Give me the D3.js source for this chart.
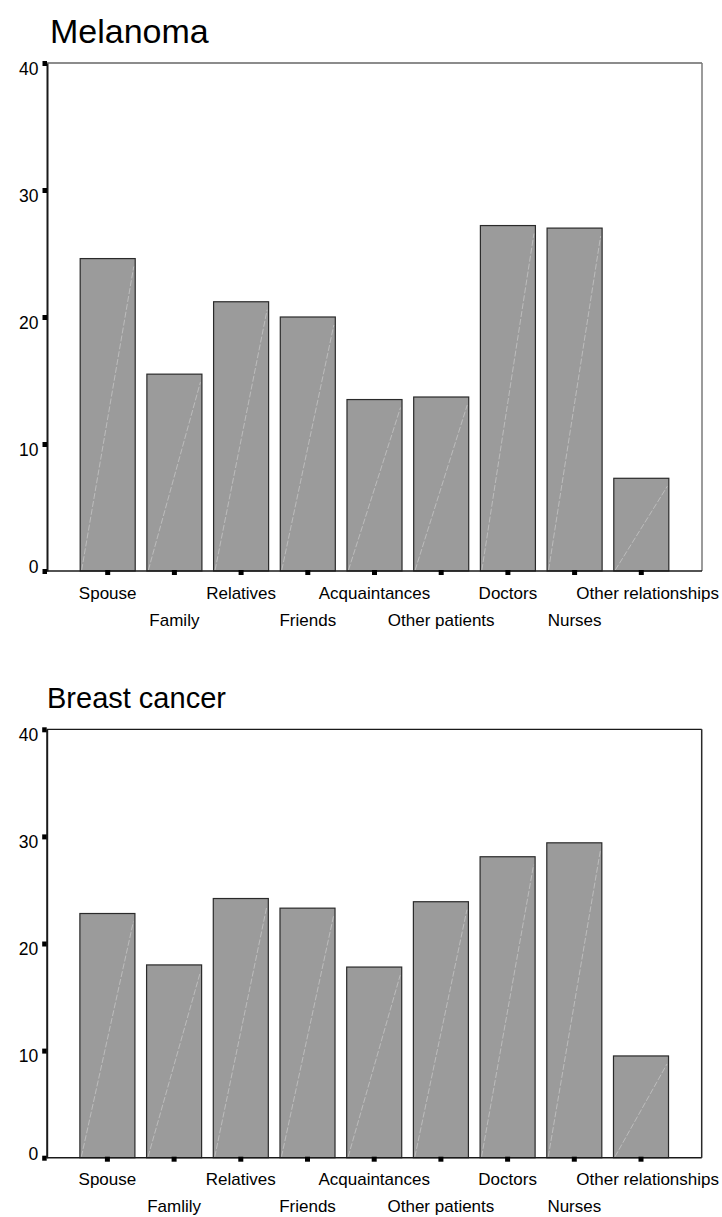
<!DOCTYPE html>
<html>
<head>
<meta charset="utf-8">
<script src="https://cdn.jsdelivr.net/npm/d3@7"></script>
<style>
  html, body { margin: 0; padding: 0; background: #fff; }
  svg { display: block; }
  text { font-family: "Liberation Sans", Arial, sans-serif; fill: #000; }
</style>
</head>
<body>
<svg id="chart" width="722" height="1217"></svg>
<script>
// ---- data ----
const categoriesMelanoma = ["Spouse", "Family", "Relatives", "Friends", "Acquaintances", "Other patients", "Doctors", "Nurses", "Other relationships"];
const categoriesBreast = ["Spouse", "Famlily", "Relatives", "Friends", "Acquaintances", "Other patients", "Doctors", "Nurses", "Other relationships"];
const melanomaValues = [24.6, 15.5, 21.2, 20.0, 13.5, 13.7, 27.2, 27.0, 7.3];
const breastValues = [22.8, 18.0, 24.2, 23.3, 17.8, 23.9, 28.1, 29.4, 9.5];
const yTicks = [0, 10, 20, 30, 40];
const titles = ["Melanoma", "Breast cancer"];

const svg = d3.select("#chart");

function drawPanel(cfg) {
  const g = svg.append("g");
  const x = d3.scaleBand()
    .domain(cfg.categories)
    .range([cfg.left, cfg.right])
    .paddingInner(0.175)
    .paddingOuter(0.4975);
  const y = d3.scaleLinear().domain([0, 40]).range([cfg.bottom, cfg.top]);

  // title
  g.append("text")
    .attr("x", cfg.titleX)
    .attr("y", cfg.titleY)
    .attr("font-size", cfg.titleSize)
    .text(cfg.title);

  // bars
  const bars = g.append("g");
  bars.selectAll("rect")
    .data(cfg.values)
    .join("rect")
    .attr("x", (d, i) => x(cfg.categories[i]))
    .attr("y", d => y(d))
    .attr("width", x.bandwidth())
    .attr("height", d => y(0) - y(d))
    .attr("fill", "#9b9b9b")
    .attr("stroke", "#2a2a2a")
    .attr("stroke-width", 1.2);
  // faint diagonal artifact line
  bars.selectAll("line")
    .data(cfg.values)
    .join("line")
    .attr("x1", (d, i) => x(cfg.categories[i]) + 1.5)
    .attr("y1", y(0) - 1)
    .attr("x2", (d, i) => x(cfg.categories[i]) + x.bandwidth() - 1.5)
    .attr("y2", d => y(d) + 8)
    .attr("stroke", "#c4c4c4")
    .attr("stroke-width", 0.8)
    .attr("stroke-dasharray", "6,2");

  // frame: top and right
  g.append("line")
    .attr("x1", cfg.left).attr("x2", cfg.right)
    .attr("y1", cfg.top).attr("y2", cfg.top)
    .attr("stroke", "#1a1a1a").attr("stroke-width", 1.2);
  g.append("line")
    .attr("x1", cfg.right).attr("x2", cfg.right)
    .attr("y1", cfg.top).attr("y2", cfg.bottom)
    .attr("stroke", cfg.rightColor).attr("stroke-width", 1.5);

  // y axis
  const yAxis = d3.axisLeft(y).tickValues(yTicks).tickSize(0).tickPadding(8.5).tickFormat(d3.format("d"));
  const ya = g.append("g")
    .attr("transform", `translate(${cfg.left},0)`)
    .call(yAxis);
  ya.select(".domain").attr("stroke", "#1a1a1a").attr("stroke-width", 2);
  ya.selectAll(".tick text")
    .attr("font-size", 17.5)
    .attr("font-family", "Liberation Sans, Arial, sans-serif")
    .attr("dy", null)
    .attr("dominant-baseline", "alphabetic")
    .attr("y", d => d === 0 ? 1.5 : 11);
  ya.selectAll(".tick")
    .append("rect")
    .attr("x", -4.5).attr("y", -2.5)
    .attr("width", 4.5).attr("height", 5)
    .attr("fill", "#000");

  // x axis
  const xAxis = d3.axisBottom(x).tickSize(0).tickPadding(0);
  const xa = g.append("g")
    .attr("transform", `translate(0,${cfg.bottom})`)
    .call(xAxis);
  xa.select(".domain").attr("stroke", "#1a1a1a").attr("stroke-width", 1.5)
    .attr("d", `M${cfg.left},0H${cfg.right}`);
  xa.selectAll(".tick text")
    .attr("font-size", 17)
    .attr("font-family", "Liberation Sans, Arial, sans-serif")
    .attr("dy", null)
    .attr("y", (d, i) => i % 2 === 0 ? cfg.row1 : cfg.row2);
  xa.selectAll(".tick")
    .filter((d, i) => i === cfg.categories.length - 1)
    .select("text")
    .attr("text-anchor", "end")
    .attr("x", 719 - x(cfg.categories[cfg.categories.length - 1]) - x.bandwidth() / 2);
  xa.selectAll(".tick")
    .append("rect")
    .attr("x", -2.5).attr("y", -1)
    .attr("width", 5).attr("height", 5)
    .attr("fill", "#000");
}

drawPanel({
  title: titles[0], titleX: 50, titleY: 43, titleSize: 34,
  categories: categoriesMelanoma, values: melanomaValues,
  left: 47, right: 702, top: 63, bottom: 571,
  rightColor: "#7a7a7a", row1: 28, row2: 55
});

drawPanel({
  title: titles[1], titleX: 47, titleY: 708, titleSize: 29,
  categories: categoriesBreast, values: breastValues,
  left: 46.7, right: 701.7, top: 729.3, bottom: 1157.7,
  rightColor: "#2a2a2a", row1: 27.5, row2: 54
});
</script>
</body>
</html>
